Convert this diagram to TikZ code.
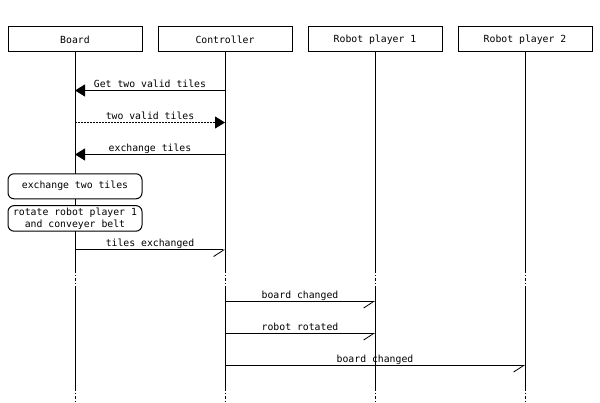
\documentclass[tikz,border=0pt]{standalone}
\usepackage{fontspec}
\setmonofont{DejaVu Sans Mono}
\usetikzlibrary{arrows.meta}

\tikzset{
  actor/.style={draw, line width=1pt, minimum width=134pt, minimum height=25pt,
    inner sep=0pt, font=\ttfamily\fontsize{9.8}{12}\selectfont},
  note/.style={actor, rounded corners=6pt, fill=white, align=center},
  life/.style={line width=1pt},
  gap/.style={line width=1pt, dash pattern=on 3pt off 2pt on 1pt off 2pt},
  msg/.style={line width=1pt, -{Triangle[length=10pt,width=12pt]}},
  ret/.style={msg, dash pattern=on 1.5pt off 1.5pt},
  async/.style={line width=1pt, -{Straight Barb[length=10pt,width=13pt,harpoon,swap,line width=0.8pt]}},
  lbl/.style={anchor=base, yshift=3pt, inner sep=0pt, font=\ttfamily\fontsize{9.8}{12}\selectfont}
}

\begin{document}
\begin{tikzpicture}[x=1pt,y=-1pt]
\useasboundingbox (0,0) rectangle (600,403);
% lifelines
\foreach \n/\x/\t in {board/75/Board,ctrl/225/Controller,rpa/375/Robot player 1,rpb/525/Robot player 2}{
	\node[actor] (\n) at (\x,39.5) {\t};
	\draw[life] (\n.south) -- (\x,270);
	\draw[gap] (\x,270) -- (\x,289);
	\draw[life] (\x,289) -- (\x,388);
	\draw[gap] (\x,388) -- (\x,403);
	}
\foreach \i/\y in {1/90.5,2/122.5,3/154.5,4/250,5/301.5,6/333.5,7/365.5}
	\foreach \n/\x in {board/75,ctrl/225,rpa/375,rpb/525}
		\coordinate (\n\i) at (\x,\y);

\draw[msg] (ctrl1) -- node[lbl] {Get two valid tiles} (board1);
\draw[ret] (board2) -- node[lbl] {two valid tiles} (ctrl2);
\draw[msg] (ctrl3) -- node[lbl] {exchange tiles} (board3);

\node[note] (swap) at (75,186.3) {exchange two tiles};
\node[note, minimum height=25.5pt] (rot) at (75,218.4) {rotate robot player 1\\and conveyer belt};

\draw[async] (board4) -- node[lbl] {tiles exchanged} (ctrl4);
\draw[async] (ctrl5) -- node[lbl] {board changed} (rpa5);
\draw[async] (ctrl6) -- node[lbl] {robot rotated} (rpa6);
\draw[async] (ctrl7) -- node[lbl] {board changed} (rpb7);

\end{tikzpicture}
\end{document}
